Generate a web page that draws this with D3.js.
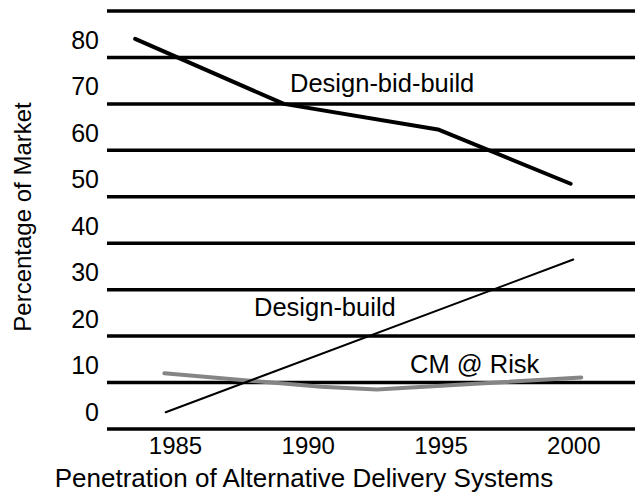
<!DOCTYPE html>
<html>
<head>
<meta charset="utf-8">
<script src="https://cdnjs.cloudflare.com/ajax/libs/d3/7.8.5/d3.min.js"></script>
<style>
  body { margin: 0; background: #fff; }
  svg { display: block; font-family: "Liberation Sans", Arial, sans-serif; }
</style>
</head>
<body>
<svg id="chart" width="635" height="496"></svg>
<script>
// chart data
var yearTicks = [1985, 1990, 1995, 2000];
var valueTicks = [0, 10, 20, 30, 40, 50, 60, 70, 80];
var gridValues = [0, 10, 20, 30, 40, 50, 60, 70, 80, 90];

var dbbYears = [1983.5, 1989.1, 1994.9, 1999.9];
var dbbValues = [84, 70, 64.5, 52.8];

var dbYears = [1984.65, 2000];
var dbValues = [3.6, 36.5];

var cmYears = [1984.6, 1990.5, 1992.6, 2000.3];
var cmValues = [12, 9.1, 8.5, 11.1];

var svg = d3.select("#chart");

var x = d3.scaleLinear().domain([1985, 2000]).range([175, 573.3]);
var y = d3.scaleLinear().domain([0, 90]).range([429, 11]);

// horizontal rules
svg.append("g").selectAll("line")
    .data(gridValues)
    .enter().append("line")
    .attr("x1", 107)
    .attr("x2", 635)
    .attr("y1", function(d){ return y(d); })
    .attr("y2", function(d){ return y(d); })
    .attr("stroke", "#000")
    .attr("stroke-width", 3.5);

// y labels sit just above their rule
var yAxis = d3.axisLeft(y).tickValues(valueTicks).tickSize(0).tickPadding(0);
var gy = svg.append("g").attr("transform", "translate(99,0)").call(yAxis);
gy.select(".domain").remove();
gy.selectAll("text")
    .attr("dy", "-9px")
    .attr("font-size", 25)
    .attr("font-family", "Liberation Sans, Arial, sans-serif")
    .attr("fill", "#000");

var xAxis = d3.axisBottom(x).tickValues(yearTicks).tickFormat(d3.format("d")).tickSize(0).tickPadding(0);
var gx = svg.append("g").attr("transform", "translate(0,436)").call(xAxis);
gx.select(".domain").remove();
gx.selectAll("text")
    .attr("dy", "18px")
    .attr("font-size", 24)
    .attr("font-family", "Liberation Sans, Arial, sans-serif")
    .attr("fill", "#000");

function drawLine(xs, vs, color, width){
    var pts = xs.map(function(d, i){ return [d, vs[i]]; });
    var line = d3.line()
        .x(function(d){ return x(d[0]); })
        .y(function(d){ return y(d[1]); });
    svg.append("path")
        .datum(pts)
        .attr("d", line)
        .attr("fill", "none")
        .attr("stroke", color)
        .attr("stroke-width", width)
        .attr("stroke-linecap", "round")
        .attr("stroke-linejoin", "round");
}

drawLine(cmYears, cmValues, "#858585", 4);
drawLine(dbYears, dbValues, "#000", 2);
drawLine(dbbYears, dbbValues, "#000", 4);

function addLabel(px, py, txt){
    svg.append("text")
        .attr("x", px)
        .attr("y", py)
        .attr("font-size", 25.5)
        .attr("fill", "#000")
        .text(txt);
}
addLabel(290, 92, "Design-bid-build");
addLabel(254, 316, "Design-build");
addLabel(410, 373, "CM @ Risk");

// axis titles
svg.append("text")
    .attr("x", 304)
    .attr("y", 487)
    .attr("text-anchor", "middle")
    .attr("font-size", 26)
    .text("Penetration of Alternative Delivery Systems");

svg.append("text")
    .attr("transform", "translate(31,217) rotate(-90)")
    .attr("text-anchor", "middle")
    .attr("font-size", 24)
    .text("Percentage of Market");
</script>
</body>
</html>
